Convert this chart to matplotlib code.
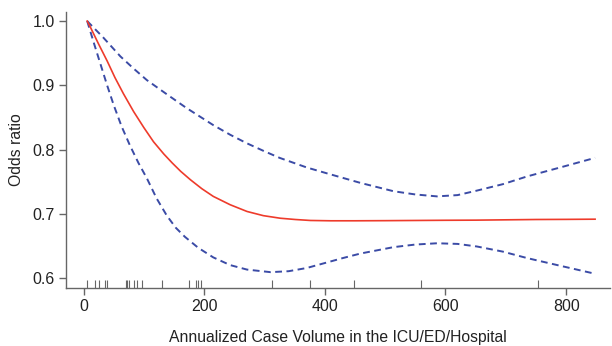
import matplotlib
matplotlib.use("Agg")
import matplotlib.pyplot as plt
import matplotlib.transforms as mtransforms

plt.rcParams['font.family'] = ['Liberation Sans', 'DejaVu Sans']

# fitted odds ratio curve
fit_x = [6, 11, 25, 39, 52, 66, 83, 100, 116, 133, 147, 161, 177, 196, 215, 243, 271, 298, 326, 351, 376, 410, 450, 500, 550, 600, 650, 700, 750, 800, 848]
fit_y = [1.0, 0.991, 0.964, 0.938, 0.912, 0.887, 0.859, 0.834, 0.812, 0.793, 0.779, 0.766, 0.753, 0.739, 0.727, 0.714, 0.7035, 0.697, 0.693, 0.691, 0.6895, 0.689, 0.689, 0.6892, 0.6895, 0.6898, 0.690, 0.6905, 0.691, 0.6912, 0.6915]

# upper confidence limit
upper_x = [6, 33, 61, 83, 105, 138, 170, 215, 243, 270, 298, 325, 370, 403, 459, 514, 550, 586, 620, 652, 695, 735, 790, 848]
upper_y = [1.0, 0.974, 0.945, 0.926, 0.908, 0.886, 0.865, 0.838, 0.823, 0.810, 0.798, 0.787, 0.772, 0.763, 0.748, 0.735, 0.730, 0.727, 0.729, 0.736, 0.746, 0.758, 0.772, 0.787]

# lower confidence limit
lower_x = [6, 17, 28, 39, 50, 63, 77, 91, 105, 121, 138, 153, 168, 190, 215, 243, 271, 310, 340, 370, 403, 430, 459, 514, 550, 586, 620, 652, 695, 735, 790, 848]
lower_y = [1.0, 0.966, 0.933, 0.900, 0.869, 0.836, 0.806, 0.779, 0.755, 0.724, 0.697, 0.678, 0.664, 0.647, 0.632, 0.620, 0.613, 0.609, 0.6105, 0.6155, 0.624, 0.631, 0.638, 0.648, 0.652, 0.654, 0.653, 0.649, 0.641, 0.631, 0.619, 0.6065]

# observed case volumes (rug)
rug_x = [6, 19, 25, 36, 38, 70, 72, 75, 84, 88, 97, 130, 174, 186, 189, 194, 312, 376, 449, 559, 753]

x_ticks = [0, 200, 400, 600, 800]
y_ticks = [0.6, 0.7, 0.8, 0.9, 1.0]

fig = plt.figure(figsize=(6.12, 3.46), dpi=100)
ax = fig.add_axes([0.108, 0.167, 0.889, 0.799])

blue = '#3B4BA6'
ax.plot(upper_x, upper_y, color=blue, lw=1.4, linestyle=(0, (3.5, 2.3)))
ax.plot(lower_x, lower_y, color=blue, lw=1.4, linestyle=(0, (3.5, 2.3)))
ax.plot(fit_x, fit_y, color='#EE3B2B', lw=1.2)

trans = mtransforms.blended_transform_factory(ax.transData, ax.transAxes)
ax.vlines(rug_x, 0, 0.028, transform=trans, color='#666666', lw=0.8)

ax.set_xlim(-29, 873)
ax.set_ylim(0.584, 1.0145)
ax.set_xticks(x_ticks)
ax.set_yticks(y_ticks)
ax.set_yticklabels([f"{v:.1f}" for v in y_ticks])

for s in ['top', 'right']:
    ax.spines[s].set_visible(False)
for s in ['left', 'bottom']:
    ax.spines[s].set_color('#666666')
    ax.spines[s].set_linewidth(1.0)

ax.tick_params(axis='both', direction='out', length=5, width=1.0, color='#666666',
               labelsize=11.5, labelcolor='#222222', pad=3)

ax.set_xlabel('Annualized Case Volume in the ICU/ED/Hospital', fontsize=11.3, color='#222222', labelpad=11)
ax.set_ylabel('Odds ratio', fontsize=11.3, color='#222222', labelpad=6)

fig.savefig('out.png', dpi=100)
